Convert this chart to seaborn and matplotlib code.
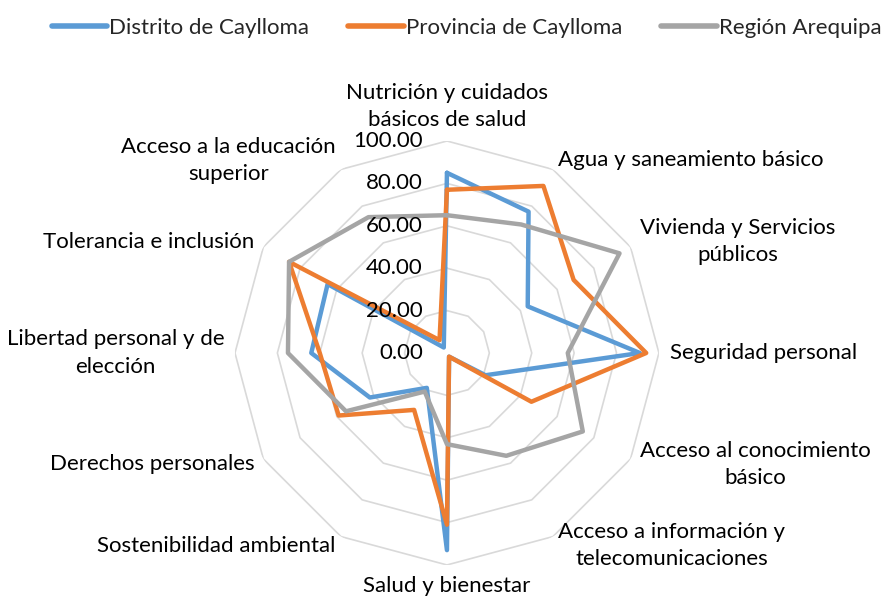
import numpy as np
import pandas as pd
import seaborn as sns
import matplotlib.pyplot as plt
from matplotlib.lines import Line2D

categories = [
    "Nutrición y cuidados\nbásicos de salud",
    "Agua y saneamiento básico",
    "Vivienda y Servicios\npúblicos",
    "Seguridad personal",
    "Acceso al conocimiento\nbásico",
    "Acceso a información y\ntelecomunicaciones",
    "Salud y bienestar",
    "Sostenibilidad ambiental",
    "Derechos personales",
    "Libertad personal y de\nelección",
    "Tolerancia e inclusión",
    "Acceso a la educación\nsuperior",
]
distrito = [85, 77, 44, 91, 21, 2, 93, 19, 42, 64, 65, 3]
provincia = [77, 91, 69, 94, 46, 2, 81, 31, 59, 60, 86, 7]
region = [65, 70, 94, 57, 74, 56, 43, 21, 55, 75, 86, 74]
series_names = ["Distrito de Caylloma", "Provincia de Caylloma", "Región Arequipa"]
colors = ["#5B9BD5", "#ED7D31", "#A5A5A5"]
ticks = [0, 20, 40, 60, 80, 100]

sns.set_theme(style="white")
plt.rcParams['font.family'] = ['Lato', 'DejaVu Sans']
fs = 16

n = len(categories)
theta = np.linspace(0, 2 * np.pi, n, endpoint=False)
closed = np.append(theta, 2 * np.pi)

rows = []
for name, vals in zip(series_names, [distrito, provincia, region]):
    for t, v in zip(closed, vals + [vals[0]]):
        rows.append({"theta": t, "valor": v, "serie": name})
df = pd.DataFrame(rows)

fig = plt.figure(figsize=(8.84, 5.99), dpi=100)
ax = fig.add_axes([0.2658, 0.0568, 0.4796, 0.7078], projection="polar")
ax.set_theta_offset(np.pi / 2)
ax.set_theta_direction(-1)

# polygon grid like Excel
for r in ticks[1:]:
    ax.plot(closed, [r] * (n + 1), color="#d9d9d9", lw=1.2, zorder=1)

sns.lineplot(data=df, x="theta", y="valor", hue="serie", palette=colors,
             sort=False, estimator=None, lw=3.2, ax=ax, legend=False, zorder=3)

ax.set_ylim(0, 100)
ax.grid(False)
ax.spines["polar"].set_visible(False)
ax.set_xticks([])
ax.set_yticks([])
ax.set_xlabel("")
ax.set_ylabel("")

for v in ticks:
    ax.annotate(f"{v:.2f}", xy=(0, v), xytext=(-24, 0), textcoords="offset pixels",
                ha="right", va="center", fontsize=fs, color="black", zorder=4)

for t, lab in zip(theta, categories):
    deg = np.degrees(t)
    if deg == 0:
        ha, va = "center", "bottom"
    elif deg == 180:
        ha, va = "center", "top"
    elif deg < 180:
        ha, va = "left", "center"
    else:
        ha, va = "right", "center"
    ax.text(t, 105, lab, ha=ha, va=va, multialignment="center", fontsize=fs,
            color="black", linespacing=1.45)

handles = [Line2D([], [], color=c, lw=4) for c in colors]
fig.legend(handles, series_names, loc="center", bbox_to_anchor=(0.528, 1 - 28 / 599),
           ncol=3, frameon=False, fontsize=fs, handlelength=2.5, handletextpad=0.1,
           columnspacing=1.75, borderpad=0)

fig.savefig("out.png", dpi=100)
